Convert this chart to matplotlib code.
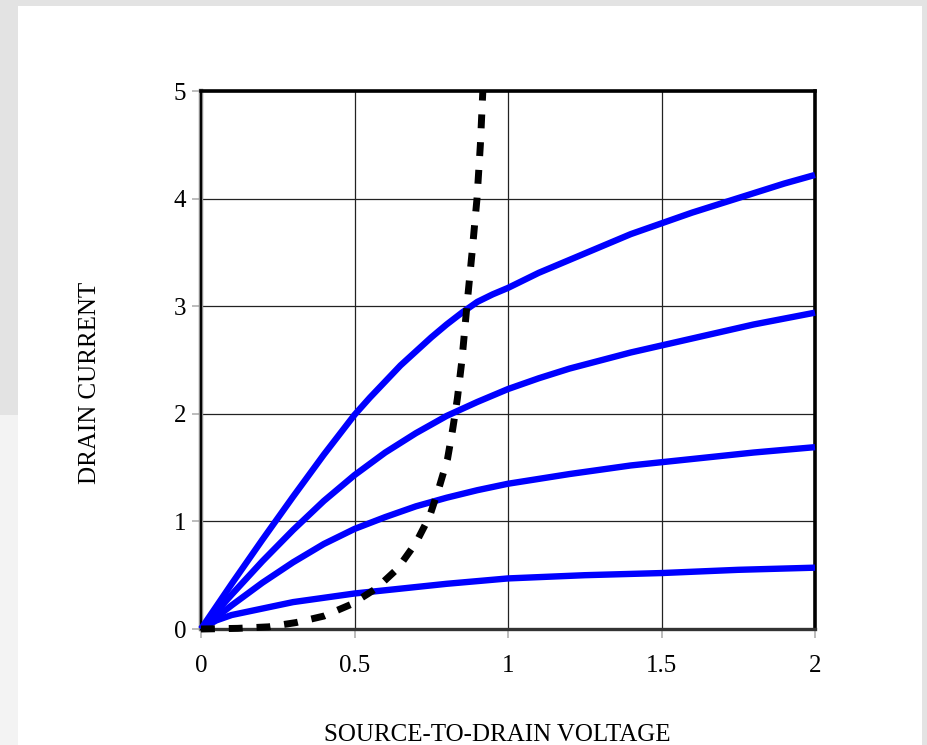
import numpy as np
import matplotlib.pyplot as plt
from matplotlib.patches import Rectangle

plt.rcParams['font.family'] = ['Liberation Serif', 'DejaVu Serif']

# curve data
v1 = [0, 0.1, 0.2, 0.3, 0.4, 0.5, 0.55, 0.6, 0.65, 0.7, 0.75, 0.8, 0.85, 0.9, 0.95, 1.0,
      1.1, 1.2, 1.3, 1.4, 1.5, 1.6, 1.7, 1.8, 1.9, 2.0]
i1 = [0, 0.42, 0.83, 1.23, 1.62, 1.99, 2.15, 2.3, 2.45, 2.58, 2.71, 2.83, 2.94, 3.04, 3.11, 3.17,
      3.31, 3.43, 3.55, 3.67, 3.77, 3.87, 3.96, 4.05, 4.14, 4.22]

v2 = [0, 0.1, 0.2, 0.3, 0.4, 0.5, 0.6, 0.7, 0.8, 0.9, 1.0, 1.1, 1.2, 1.4, 1.6, 1.8, 2.0]
i2 = [0, 0.32, 0.63, 0.92, 1.19, 1.43, 1.64, 1.82, 1.98, 2.11, 2.23, 2.33, 2.42, 2.57, 2.7, 2.83, 2.94]

v3 = [0, 0.1, 0.2, 0.3, 0.4, 0.5, 0.6, 0.7, 0.8, 0.9, 1.0, 1.2, 1.4, 1.6, 1.8, 2.0]
i3 = [0, 0.22, 0.43, 0.62, 0.79, 0.93, 1.04, 1.14, 1.22, 1.29, 1.35, 1.44, 1.52, 1.58, 1.64, 1.69]

v4 = [0, 0.05, 0.1, 0.15, 0.2, 0.3, 0.4, 0.5, 0.6, 0.8, 1.0, 1.25, 1.5, 1.75, 2.0]
i4 = [0, 0.08, 0.13, 0.16, 0.19, 0.25, 0.29, 0.33, 0.36, 0.42, 0.47, 0.5, 0.52, 0.55, 0.57]

vd = [0, 0.12, 0.22, 0.31, 0.4, 0.49, 0.57, 0.64, 0.7, 0.745, 0.775, 0.803, 0.82, 0.835, 0.85,
      0.866, 0.883, 0.899, 0.91, 0.918]
idr = [0, 0.006, 0.02, 0.06, 0.12, 0.23, 0.375, 0.56, 0.8, 1.05, 1.31, 1.58, 1.86, 2.14, 2.5,
       3.0, 3.5, 4.0, 4.5, 5.0]

xticks = [0, 0.5, 1, 1.5, 2]
xticklabels = ['0', '0.5', '1', '1.5', '2']
yticks = [0, 1, 2, 3, 4, 5]

fig = plt.figure(figsize=(9.27, 7.45), dpi=100)
fig.patch.set_facecolor('#e3e3e3')
# lighter lower part of the left strip
fig.add_artist(Rectangle((0, 0), 18 / 927, 1 - 415 / 745, transform=fig.transFigure,
                         facecolor='#f3f3f3', edgecolor='none', zorder=-6))
# white slide panel, behind the axes
fig.add_artist(Rectangle((18 / 927, 0), (922 - 18) / 927, 1 - 6 / 745,
                         transform=fig.transFigure, facecolor='white',
                         edgecolor='none', zorder=-5))

ax = fig.add_axes([201 / 927, 1 - 629 / 745, (815 - 201) / 927, (629 - 91) / 745])
ax.set_xlim(0, 2)
ax.set_ylim(0, 5)

for v, i in [(v1, i1), (v2, i2), (v3, i3), (v4, i4)]:
    ax.plot(v, i, color='#0000ff', lw=4.6, solid_capstyle='butt', solid_joinstyle='round',
            zorder=3, clip_on=False)
ax.plot(vd, idr, color='black', lw=5, dashes=(2.0, 2.0), zorder=4, clip_on=False)

ax.set_xticks(xticks)
ax.set_xticklabels(xticklabels)
ax.set_yticks(yticks)
ax.grid(True, color='#222222', lw=0.9)
ax.set_axisbelow(True)
ax.tick_params(axis='both', labelsize=18, color='#b0b0b0', length=6.5, width=1.2)
ax.tick_params(axis='x', pad=12)
ax.tick_params(axis='y', pad=4)

for s in ['top', 'right']:
    ax.spines[s].set_linewidth(2.6)
    ax.spines[s].set_color('black')
ax.spines['left'].set_linewidth(3.2)
ax.spines['left'].set_color('#8a8a8a')
ax.axvline(0, color='black', lw=1.4, zorder=2.6, clip_on=False)
ax.spines['bottom'].set_linewidth(2.4)
ax.spines['bottom'].set_color('#333333')

fig.text(90 / 927, 1 - 383 / 745, 'DRAIN CURRENT', rotation=90, fontsize=18,
         ha='center', va='center')
fig.text(497 / 927, 1 - 735 / 745, 'SOURCE-TO-DRAIN VOLTAGE', fontsize=18,
         ha='center', va='center')

fig.savefig('out.png', dpi=100, facecolor=fig.get_facecolor())
